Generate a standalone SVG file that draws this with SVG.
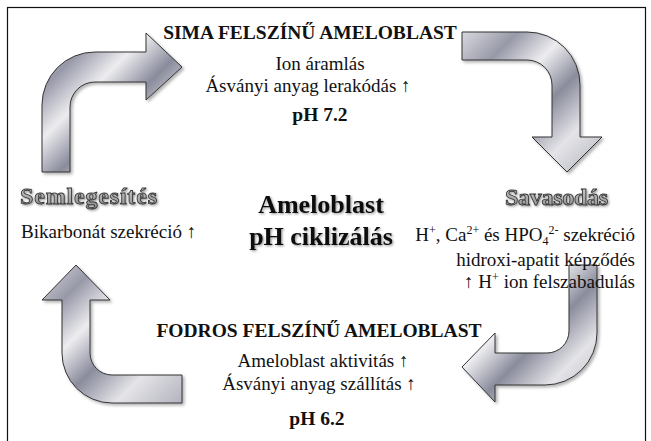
<svg xmlns="http://www.w3.org/2000/svg" width="651" height="441" viewBox="0 0 651 441" font-family="'Liberation Serif', 'DejaVu Serif', serif">
<defs>
<linearGradient id="metal" x1="0" y1="0" x2="1" y2="1">
<stop offset="0" stop-color="#d8d9de"/>
<stop offset="0.2" stop-color="#9899a8"/>
<stop offset="0.38" stop-color="#ededf0"/>
<stop offset="0.56" stop-color="#8a8c9c"/>
<stop offset="0.76" stop-color="#e4e4e8"/>
<stop offset="1" stop-color="#b2b3bd"/>
</linearGradient>
<linearGradient id="emb" x1="0" y1="0" x2="0" y2="1">
<stop offset="0" stop-color="#d6d6d6"/>
<stop offset="1" stop-color="#8a8a8a"/>
</linearGradient>
<filter id="sh" x="-10%" y="-10%" width="130%" height="130%">
<feDropShadow dx="2" dy="2" stdDeviation="1.5" flood-color="#000" flood-opacity="0.3"/>
</filter>
<filter id="tsh" x="-5%" y="-20%" width="115%" height="150%">
<feDropShadow dx="1.2" dy="1.2" stdDeviation="0.8" flood-color="#000" flood-opacity="0.4"/>
</filter>
</defs>
<style>
text{fill:#111}
.b{font-weight:bold;font-size:19.5px}
.r{font-size:19px}
.c{text-anchor:middle}
.e{text-anchor:end}
.big{font-weight:bold;font-size:26px;text-anchor:middle}
.emb{font-weight:bold;font-size:24px;fill:url(#emb);stroke:#3a3a3a;stroke-width:0.9}
.arr{fill:url(#metal);stroke:#333;stroke-width:1;filter:url(#sh)}
.sup{font-size:12px}
</style>
<rect x="0" y="0" width="651" height="441" fill="#fff"/>
<rect x="7.5" y="7.5" width="638" height="460" fill="none" stroke="#111" stroke-width="1.2"/>
<g id="connectors">
<path class="arr" d="M 42 172 L 42 105 A 53 53 0 0 1 95 52 L 146 52 L 146 33 L 182 67 L 146 100 L 146 82 L 95 82 A 25 25 0 0 0 70 107 L 70 172 Z"/>
<path class="arr" d="M 462 32 L 527 32 A 53 53 0 0 1 580 85 L 580 137 L 602 137 L 567 172 L 532 137 L 552 137 L 552 85 A 25 25 0 0 0 527 60 L 462 60 Z"/>
<path class="arr" d="M 569 265 L 597 265 L 597 333 A 52 52 0 0 1 545 385 L 495 385 L 495 402 L 462 367 L 495 333 L 495 353 L 547 353 A 22 22 0 0 0 569 331 Z"/>
<path class="arr" d="M 182 375 L 182 403 L 112 403 A 50 50 0 0 1 62 353 L 62 300 L 42 300 L 76 265 L 110 300 L 90 300 L 90 353 A 22 22 0 0 0 112 375 Z"/>
</g>
<g id="node-top">
<text class="b c" x="310" y="39">SIMA FELSZÍNŰ AMELOBLAST</text>
<text class="r c" x="320" y="70">Ion áramlás</text>
<text class="r c" x="308" y="92">Ásványi anyag lerakódás ↑</text>
<text class="b c" x="320" y="121">pH 7.2</text>
</g>
<g id="node-left">
<text class="emb" x="20" y="204" textLength="137" filter="url(#tsh)">Semlegesítés</text>
<text class="r" x="21" y="238">Bikarbonát szekréció ↑</text>
</g>
<g id="node-center" filter="url(#tsh)">
<text class="big" x="321" y="213">Ameloblast</text>
<text class="big" x="321" y="245">pH ciklizálás</text>
</g>
<g id="node-right">
<text class="emb" x="505" y="205" textLength="103" filter="url(#tsh)">Savasodás</text>
<text class="r e" x="635" y="241">H<tspan class="sup" dy="-7">+</tspan><tspan dy="7">, Ca</tspan><tspan class="sup" dy="-7">2+</tspan><tspan dy="7"> és HPO</tspan><tspan class="sup" dy="4">4</tspan><tspan class="sup" dy="-11">2-</tspan><tspan dy="7"> szekréció</tspan></text>
<text class="r e" x="635" y="266">hidroxi-apatit képződés</text>
<text class="r e" x="635" y="288">↑ H<tspan class="sup" dy="-7">+</tspan><tspan dy="7"> ion felszabadulás</tspan></text>
</g>
<g id="node-bottom">
<text class="b c" x="319" y="337">FODROS FELSZÍNŰ AMELOBLAST</text>
<text class="r c" x="323" y="367">Ameloblast aktivitás ↑</text>
<text class="r c" x="319" y="390">Ásványi anyag szállítás ↑</text>
<text class="b c" x="317" y="425">pH 6.2</text>
</g>
</svg>
